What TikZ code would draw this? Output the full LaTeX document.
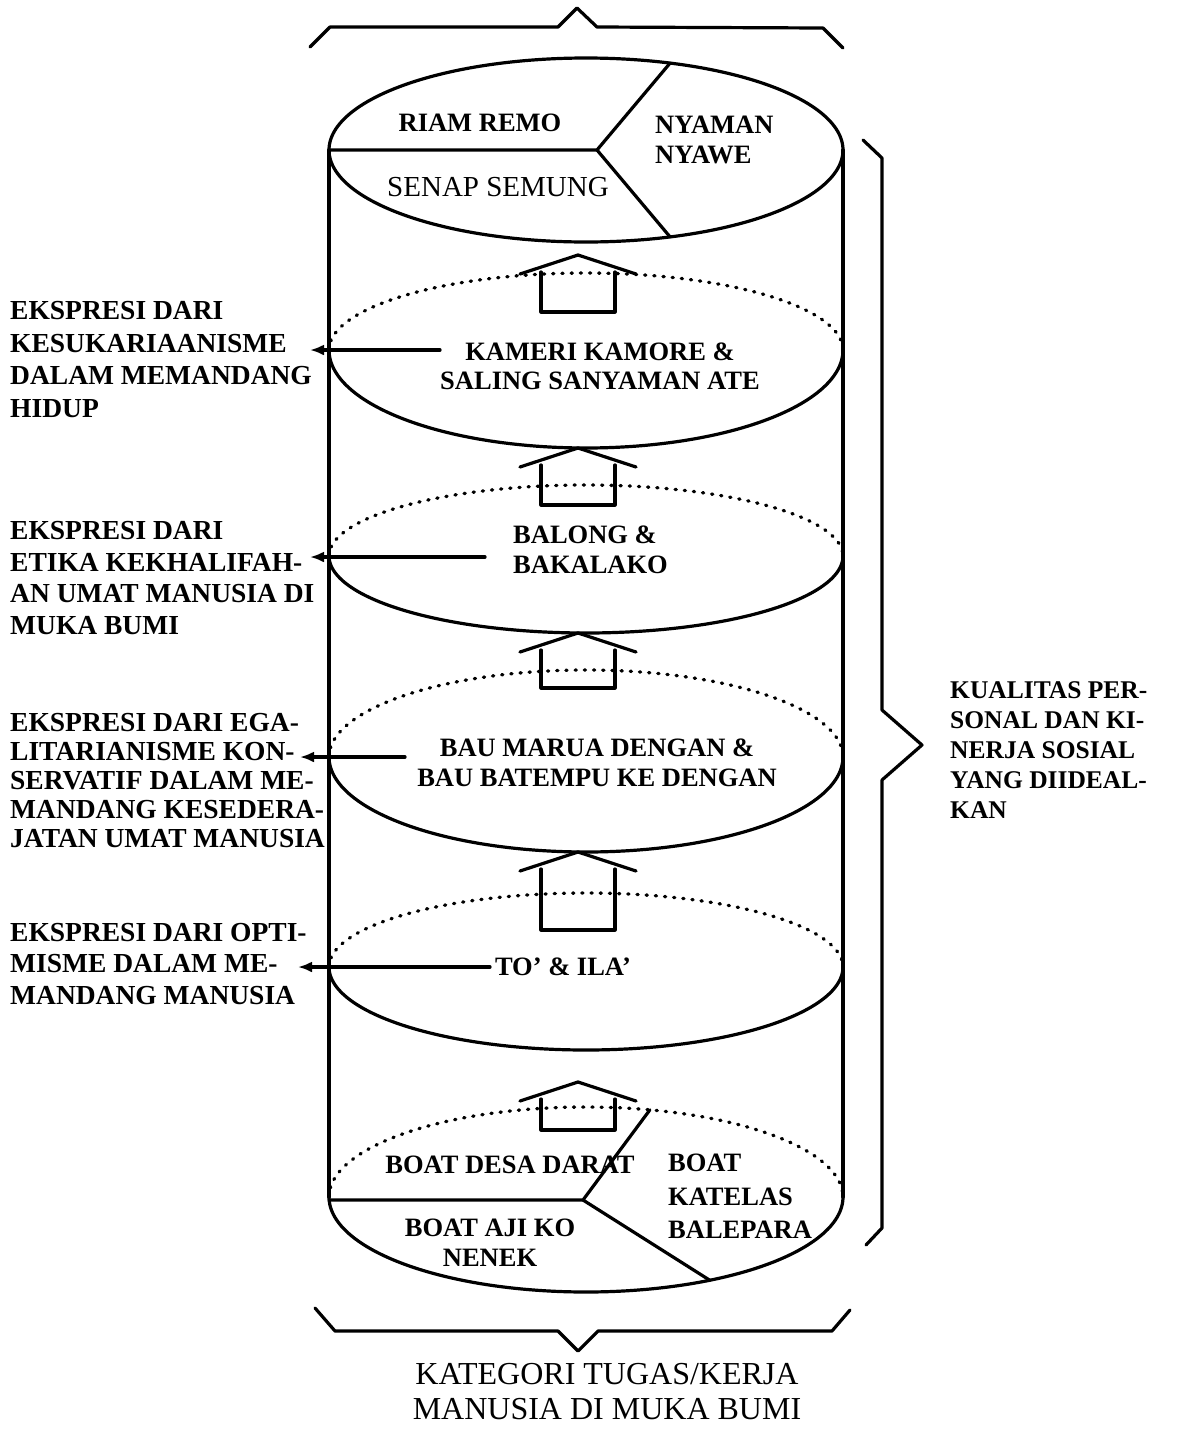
\documentclass[tikz,border=0pt]{standalone}
\usepackage{fontspec}
\setmainfont{Liberation Serif}
\usetikzlibrary{arrows.meta,calc}

\tikzset{
  edge/.style={line width=3.2pt, line cap=round, line join=round},
  dotted edge/.style={line width=3.3pt, line cap=round, dash pattern=on 1.2pt off 8pt},
  pointer/.style={edge, -{Latex[length=14pt,width=11pt]}},
  side label/.style={font=\bfseries\fontsize{27.5}{32}\selectfont, align=left, inner sep=0pt, anchor=north west},
  layer text/.style={font=\bfseries\fontsize{26.5}{29}\selectfont, align=center, inner sep=0pt},
  caption text/.style={font=\fontsize{32}{35}\selectfont, align=center, inner sep=0pt}
}

% half ellipses of the cylinder layers: centre x 586, x radius 257
\newcommand\upperhalf[3][edge]{\draw[#1] plot[domain=180:360,samples=120,smooth] ({586+257*cos(\x)},{#2+#3*sin(\x)});}
\newcommand\lowerhalf[2]{\draw[edge] plot[domain=0:180,samples=120,smooth] ({586+257*cos(\x)},{#1+#2*sin(\x)});}

\begin{document}
\begin{tikzpicture}[x=1pt,y=-1pt]
\useasboundingbox (0,0) rectangle (1177,1441);

% cylinder walls
\draw[edge] (329,150) -- (329,1197);
\draw[edge] (843,150) -- (843,1197);

% top disc
\upperhalf{150}{92}
\lowerhalf{150}{92}
\coordinate (topc) at (597,150);
\coordinate (topu) at ({586+257*cos(289.1)},{150+92*sin(289.1)});
\coordinate (topd) at ({586+257*cos(70.9)},{150+92*sin(70.9)});
\draw[edge] (329,150) -- (topc) -- (topu);
\draw[edge] (topc) -- (topd);

% middle layers: dotted back rim, solid front rim
\upperhalf[dotted edge]{350}{77}
\lowerhalf{350}{98}
\upperhalf[dotted edge]{556}{71}
\lowerhalf{556}{77}
\upperhalf[dotted edge]{757}{87}
\lowerhalf{757}{95}
\upperhalf[dotted edge]{967}{74}
\lowerhalf{967}{83}

% bottom disc
\upperhalf[dotted edge]{1197}{90}
\lowerhalf{1197}{95}

% upward house-shaped arrows between the layers
\foreach \p/\b in {255/312, 448/505, 633/688, 852/930, 1082/1130} {
  \draw[edge] (520,{\p+19}) -- (578,\p) -- (636,{\p+19});
  \draw[edge] (541,{\p+17}) -- (541,\b) -- (615,\b) -- (615,{\p+17});
}

% texts of the top disc
\node[layer text] (riam) at (480,123) {RIAM REMO};
\node[side label, font=\bfseries\fontsize{26.5}{30}\selectfont] (nyaman) at (655,116) {NYAMAN\\NYAWE};
\node[font=\fontsize{29}{32}\selectfont, inner sep=0pt] (senap) at (498,187) {SENAP SEMUNG};

% texts of the layers
\node[layer text] (l1) at (600,366) {KAMERI KAMORE \&\\SALING SANYAMAN ATE};
\node[side label, font=\bfseries\fontsize{26.5}{30}\selectfont] (l2) at (513,526) {BALONG \&\\BAKALAKO};
\node[layer text, font=\bfseries\fontsize{26.5}{30}\selectfont] (l3) at (597,763) {BAU MARUA DENGAN \&\\BAU BATEMPU KE DENGAN};
\node[layer text] (l4) at (563,967) {TO’ \& ILA’};

% texts of the bottom disc
\node[layer text] (desa) at (510,1165) {BOAT DESA DARAT};
\node[side label, font=\bfseries\fontsize{26.5}{33.5}\selectfont] (katelas) at (668,1154) {BOAT\\KATELAS\\BALEPARA};
\node[layer text, font=\bfseries\fontsize{26.5}{30}\selectfont] (aji) at (490,1243) {BOAT AJI KO\\NENEK};

% dividers of the bottom disc
\coordinate (botc) at (583,1200);
\coordinate (botu) at ({586+257*cos(284.4)},{1197+90*sin(284.4)});
\coordinate (botd) at ({586+257*cos(61.2)},{1197+95*sin(61.2)});
\draw[edge] (329,1200) -- (botc) -- (botu);
\draw[edge] (botc) -- (botd);

% explanations on the left
\node[side label, font=\bfseries\fontsize{27.5}{32.7}\selectfont] (g1) at (10,301) {EKSPRESI DARI\\KESUKARIAANISME\\DALAM MEMANDANG\\HIDUP};
\node[side label, font=\bfseries\fontsize{27.5}{31.7}\selectfont] (g2) at (10,521) {EKSPRESI DARI\\ETIKA KEKHALIFAH-\\AN UMAT MANUSIA DI\\MUKA BUMI};
\node[side label, font=\bfseries\fontsize{27.5}{29}\selectfont] (g3) at (10,713) {EKSPRESI DARI EGA-\\LITARIANISME KON-\\SERVATIF DALAM ME-\\MANDANG KESEDERA-\\JATAN UMAT MANUSIA};
\node[side label, font=\bfseries\fontsize{27.5}{31.5}\selectfont] (g4) at (10,923) {EKSPRESI DARI OPTI-\\MISME DALAM ME-\\MANDANG MANUSIA};

% pointers from the layers to the explanations
\coordinate (a1s) at (440,350); \coordinate (a1e) at (310,350);
\coordinate (a2s) at (485,557); \coordinate (a2e) at (310,557);
\coordinate (a3s) at (405,757); \coordinate (a3e) at (300,757);
\coordinate (a4s) at (490,967); \coordinate (a4e) at (298,967);
\draw[pointer] (a1s) -- (a1e);
\draw[pointer] (a2s) -- (a2e);
\draw[pointer] (a3s) -- (a3e);
\draw[pointer] (a4s) -- (a4e);

% braces
\draw[edge] (310,47) -- (330,27) -- (558,27) -- (577,8) -- (597,27) -- (823,28) -- (843,48);
\draw[edge] (315,1308) -- (335,1331) -- (558,1331) -- (578,1351) -- (598,1331) -- (832,1331) -- (850,1310);
\draw[edge] (863,140) -- (882,158) -- (882,710) -- (922,745) -- (882,780) -- (882,1228) -- (866,1245);

% right and bottom captions
\node[side label, font=\bfseries\fontsize{25.5}{30}\selectfont] (quality) at (950,681) {KUALITAS PER-\\SONAL DAN KI-\\NERJA SOSIAL\\YANG DIIDEAL-\\KAN};
\node[caption text] (category) at (607,1392) {KATEGORI TUGAS/KERJA\\MANUSIA DI MUKA BUMI};
\end{tikzpicture}
\end{document}
